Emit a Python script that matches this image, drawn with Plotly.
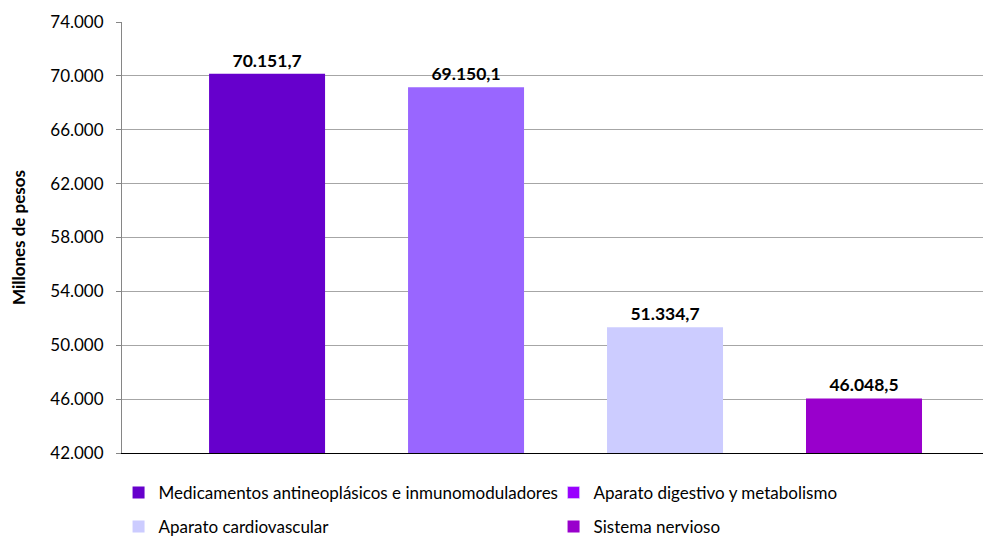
import plotly.graph_objects as go

categorias = ["Medicamentos antineoplásicos e inmunomoduladores",
              "Aparato digestivo y metabolismo",
              "Aparato cardiovascular",
              "Sistema nervioso"]
valores = [70151.7, 69150.1, 51334.7, 46048.5]
colores_barra = ["#6600CC", "#9966FF", "#CCCCFF", "#9900CC"]
colores_leyenda = ["#6600CC", "#9900FF", "#CCCCFF", "#9900CC"]
fila_leyenda = ["legend", "legend", "legend2", "legend2"]
y_ticks = [42000, 46000, 50000, 54000, 58000, 62000, 66000, 70000, 74000]

FONT = "Lato"
FS = 17
fig = go.Figure()
for i, (cat, v) in enumerate(zip(categorias, valores)):
    same = colores_barra[i] == colores_leyenda[i]
    fig.add_trace(go.Bar(
        x=[i], y=[v], name=cat, width=0.583,
        marker=dict(color=colores_barra[i], line=dict(width=0)),
        text=[v], texttemplate="%{y:,.1f}", textposition="outside",
        textfont=dict(family=FONT, size=17.5, color="#000000", weight="bold"),
        cliponaxis=False, showlegend=same, legend=fila_leyenda[i],
    ))
    if not same:
        fig.add_trace(go.Bar(
            x=[None], y=[None], name=cat, legend=fila_leyenda[i],
            marker=dict(color=colores_leyenda[i]), showlegend=True,
        ))

leg_common = dict(orientation="h", x=-0.004, xanchor="left", yanchor="middle",
                  entrywidth=390, entrywidthmode="pixels", itemwidth=30,
                  font=dict(family=FONT, size=FS, color="#000000"),
                  bgcolor="rgba(0,0,0,0)", traceorder="normal")

fig.update_layout(
    width=998, height=536,
    margin=dict(l=114, r=23, t=14, b=91, autoexpand=False),
    paper_bgcolor="white", plot_bgcolor="white",
    separators=",.",
    barmode="overlay",
    font=dict(family=FONT, size=FS, color="#000000"),
    showlegend=True,
    legend=dict(y=-0.0928, **leg_common),
    legend2=dict(y=-0.1715, **leg_common),
    xaxis=dict(range=[-0.729, 3.598], showticklabels=False, showgrid=False,
               zeroline=False, showline=True, linecolor="#000000", linewidth=1,
               ticks=""),
    yaxis=dict(range=[42000, 74000], tickvals=y_ticks, tickformat=",.0f",
               showgrid=True, gridcolor="#A6A6A6", gridwidth=1,
               zeroline=False, showline=True, linecolor="#868686", linewidth=1,
               ticks="outside", ticklen=5, tickcolor="#868686",
               ticklabelstandoff=9,
               tickfont=dict(family=FONT, size=FS, color="#000000"),
               title=dict(text="Millones de pesos", standoff=22,
                          font=dict(family=FONT, size=FS, color="#000000", weight="bold"))),
)
fig.write_html("out.html")
